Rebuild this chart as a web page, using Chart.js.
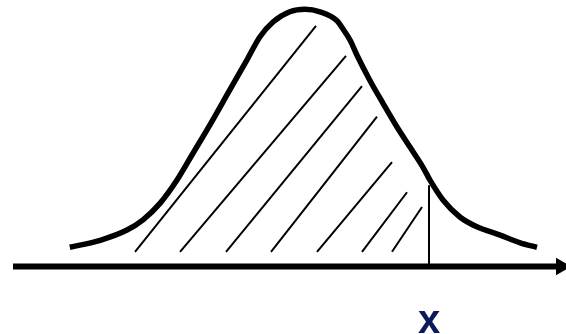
<!DOCTYPE html>
<html>
<head>
<meta charset="utf-8">
<title>Normal curve, area left of x</title>
<script src="https://cdn.jsdelivr.net/npm/chart.js@4/dist/chart.umd.min.js"></script>
<style>
    html, body { margin: 0; padding: 0; background: #ffffff; }
    canvas { display: block; }
</style>
</head>
<body>
<canvas id="curveChart" width="566" height="334"></canvas>
<script>
/* Bell curve with the area left of x hatched */

// curve, drawn by hand: z position and height
const curveZ = [-2.94, -2.56, -2.225, -2.025, -1.81, -1.6, -1.4, -1.19, -0.94, -0.725,
    -0.5625, -0.4, -0.19, 0, 0.1875, 0.4, 0.475, 0.5625, 0.65, 0.81, 0.975,
    1.15, 1.31, 1.475, 1.5625, 1.725, 1.94, 2.15, 2.44, 2.69, 2.9];
const curveY = [0.030, 0.041, 0.057, 0.073, 0.099, 0.135, 0.177, 0.221, 0.276, 0.323,
    0.359, 0.382, 0.398, 0.402, 0.398, 0.384, 0.371, 0.354, 0.330, 0.291, 0.255,
    0.218, 0.187, 0.155, 0.135, 0.104, 0.077, 0.062, 0.049, 0.037, 0.030];

// hatch strokes: lower end on the baseline, upper end under the curve
const hatchBottomZ = [-2.125, -1.5625, -0.9875, -0.425, 0.15, 0.7125, 1.0875];
const hatchTopZ = [0.1375, 0.5125, 0.7125, 0.9, 1.0875, 1.275, 1.4625];
const hatchTopY = [0.376, 0.329, 0.282, 0.234, 0.163, 0.116, 0.093];
const hatchBottomY = 0.023;

// cut-off at x
const cutZ = 1.55;
const cutTopY = 0.127;
const cutLabel = 'x';

// horizontal axis
const axisStartZ = -3.65;
const axisEndZ = 3.2;

(function () {
    const ink = '#000000';

    function line(points, width) {
        return {
            data: points,
            showLine: true,
            borderColor: ink,
            borderWidth: width,
            pointRadius: 0,
            fill: false,
        };
    }

    const datasets = [];

    datasets.push(Object.assign(line(curveZ.map(function (z, i) {
        return { x: z, y: curveY[i] };
    }), 5.5), { tension: 0.4, cubicInterpolationMode: 'monotone' }));

    hatchTopZ.forEach(function (z, i) {
        datasets.push(line([
            { x: hatchBottomZ[i], y: hatchBottomY },
            { x: z, y: hatchTopY[i] },
        ], 2));
    });

    datasets.push(line([{ x: cutZ, y: 0 }, { x: cutZ, y: cutTopY }], 2));

    // baseline with an arrow head at its right end
    datasets.push(Object.assign(line([{ x: axisStartZ, y: 0 }, { x: axisEndZ, y: 0 }], 6), {
        pointRadius: [0, 10],
        pointStyle: 'triangle',
        rotation: 90,
        pointBackgroundColor: ink,
        pointBorderWidth: 0,
    }));

    // big "x" under the cut-off line, partly running off the bottom
    const cutLabelPlugin = {
        id: 'cutLabel',
        afterDraw: function (chart) {
            const ctx = chart.ctx;
            const px = chart.scales.x.getPixelForValue(cutZ);
            const py = chart.scales.y.getPixelForValue(-0.104);
            ctx.save();
            ctx.fillStyle = '#0c1a5c';
            ctx.font = 'bold 40px "Liberation Sans", Arial, sans-serif';
            ctx.textAlign = 'center';
            ctx.textBaseline = 'alphabetic';
            ctx.fillText(cutLabel, px, py);
            ctx.restore();
        },
    };

    new Chart(document.getElementById('curveChart'), {
        type: 'scatter',
        data: { datasets: datasets },
        options: {
            responsive: false,
            animation: false,
            layout: { padding: 0, autoPadding: false },
            plugins: {
                legend: { display: false },
                tooltip: { enabled: false },
            },
            scales: {
                x: { type: 'linear', display: false, min: -3.8125, max: 3.2625 },
                y: { type: 'linear', display: false, min: -0.10547, max: 0.41641 },
            },
        },
        plugins: [cutLabelPlugin],
    });
})();
</script>
</body>
</html>
